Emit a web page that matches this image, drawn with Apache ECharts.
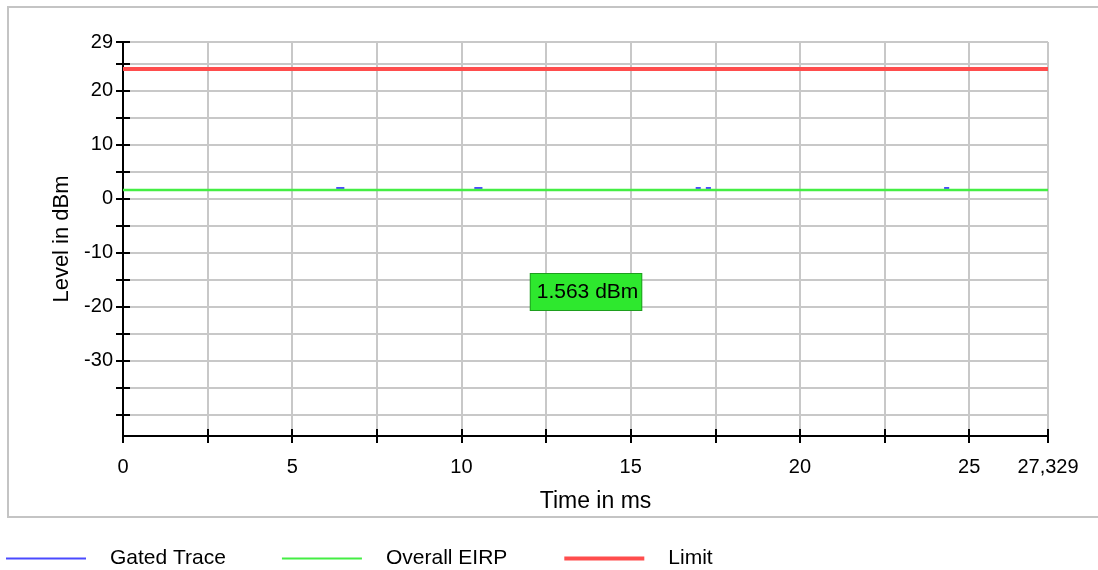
<!DOCTYPE html>
<html>
<head>
<meta charset="utf-8">
<script src="https://cdn.jsdelivr.net/npm/echarts@6/dist/echarts.min.js"></script>
<style>
html,body{margin:0;padding:0;background:#fff;}
#chart{width:1098px;height:570px;}
</style>
</head>
<body>
<div id="chart"></div>
<script>
// ---- data ----
const xMin = 0;
const xMax = 27.329;
const yMin = -44;
const yMax = 29;
const xTickValues = [0, 2.5, 5, 7.5, 10, 12.5, 15, 17.5, 20, 22.5, 25, 27.329];
const xLabelValues = [0, 5, 10, 15, 20, 25, 27.329];
const yTickValues = [29, 25, 20, 15, 10, 5, 0, -5, -10, -15, -20, -25, -30, -35, -40];
const yLabelValues = [29, 20, 10, 0, -10, -20, -30];
const gatedTrace = [
  [6.30, 1.93], [6.54, 1.93], null,
  [10.38, 1.93], [10.62, 1.93], null,
  [16.92, 1.93], [17.07, 1.93], null,
  [17.22, 1.93], [17.37, 1.93], null,
  [24.26, 1.93], [24.41, 1.93]
];
const overallEirp = [[0, 1.563], [27.329, 1.563]];
const limitLine = [[0, 24], [27.329, 24]];
const eirpLabel = { coord: [13.68, -17.3], text: '1.563 dBm' };
const legendNames = ['Gated Trace', 'Overall EIRP', 'Limit'];

const FONT = "'Liberation Sans', Arial, sans-serif";
const chart = echarts.init(document.getElementById('chart'));

function fmtX(v) {
  if (Math.abs(v - xMax) < 1e-6) return '27,329';
  return String(v);
}

const commonY = {
  type: 'value', min: yMin, max: yMax, position: 'left', offset: 0,
  axisLine: { show: true, lineStyle: { color: '#000', width: 2 } }
};
const commonX = {
  type: 'value', min: xMin, max: xMax, position: 'bottom', offset: 0,
  axisLine: { show: true, onZero: false, lineStyle: { color: '#000', width: 2 } }
};

chart.setOption({
  animation: false,
  backgroundColor: '#fff',
  textStyle: { fontFamily: FONT },
  graphic: [{
    type: 'rect', silent: true, z: -10,
    shape: { x: 8, y: 7, width: 1100, height: 510 },
    style: { fill: 'none', stroke: '#c4c4c4', lineWidth: 2 }
  }],
  grid: { left: 123, right: 50, top: 42, bottom: 134, containLabel: false },
  legend: {
    left: 5, top: 548, padding: 0, itemWidth: 80, itemHeight: 14, itemGap: 55,
    itemStyle: { opacity: 0 },
    data: [
      { name: legendNames[0], lineStyle: { width: 2 } },
      { name: legendNames[1], lineStyle: { width: 2 } },
      { name: legendNames[2], lineStyle: { width: 4 } }
    ],
    textStyle: { fontFamily: FONT, fontSize: 21, color: '#000', padding: [0, 0, 0, 19] }
  },
  xAxis: [
    Object.assign({}, commonX, {
      name: 'Time in ms', nameLocation: 'middle', nameGap: 54,
      nameTextStyle: { fontFamily: FONT, fontSize: 23, color: '#000', padding: [0, 0, 0, 20] },
      axisTick: { show: true, inside: false, length: 7, customValues: xTickValues, lineStyle: { color: '#000', width: 2 } },
      axisLabel: { show: true, customValues: xLabelValues, margin: 21, fontFamily: FONT, fontSize: 20, color: '#000', formatter: fmtX },
      splitLine: { show: true, lineStyle: { color: '#c8c8c8', width: 2 } }
    }),
    Object.assign({}, commonX, {
      axisTick: { show: true, inside: true, length: 7, customValues: xTickValues, lineStyle: { color: '#000', width: 2 } },
      axisLabel: { show: false },
      splitLine: { show: false }
    })
  ],
  yAxis: [
    Object.assign({}, commonY, {
      name: 'Level in dBm', nameLocation: 'middle', nameGap: 48, nameRotate: 90,
      nameTextStyle: { fontFamily: FONT, fontSize: 22, color: '#000' },
      axisTick: { show: true, inside: false, length: 7, customValues: yTickValues, lineStyle: { color: '#000', width: 2 } },
      axisLabel: { show: true, customValues: yLabelValues, margin: 10, fontFamily: FONT, fontSize: 20, color: '#000', padding: [4, 0, 0, 0] },
      splitLine: { show: true, lineStyle: { color: '#c8c8c8', width: 2 } }
    }),
    Object.assign({}, commonY, {
      axisTick: { show: true, inside: true, length: 7, customValues: yTickValues, lineStyle: { color: '#000', width: 2 } },
      axisLabel: { show: false },
      splitLine: { show: false }
    })
  ],
  series: [
    {
      name: legendNames[0], type: 'line', xAxisIndex: 0, yAxisIndex: 0,
      data: gatedTrace, symbol: 'none', connectNulls: false, z: 3,
      lineStyle: { color: '#4a4aff', width: 2 }, itemStyle: { color: '#4a4aff' }
    },
    {
      name: legendNames[1], type: 'line', xAxisIndex: 0, yAxisIndex: 0,
      data: overallEirp, symbol: 'none', z: 4,
      lineStyle: { color: '#44ee44', width: 2.5 }, itemStyle: { color: '#44ee44' },
      markPoint: {
        symbol: 'rect', symbolSize: 1, silent: true,
        itemStyle: { color: 'rgba(0,0,0,0)' },
        data: [{ coord: eirpLabel.coord, value: eirpLabel.text }],
        label: {
          show: true, position: 'inside', formatter: eirpLabel.text,
          fontFamily: FONT, fontSize: 21, color: '#000',
          backgroundColor: '#2ee82e', borderColor: '#1e9e1e', borderWidth: 1,
          padding: [8, 3, 7, 6], lineHeight: 21
        }
      }
    },
    {
      name: legendNames[2], type: 'line', xAxisIndex: 0, yAxisIndex: 0,
      data: limitLine, symbol: 'none', z: 5,
      lineStyle: { color: '#ff4d4d', width: 4 }, itemStyle: { color: '#ff4d4d' }
    }
  ]
});
</script>
</body>
</html>
